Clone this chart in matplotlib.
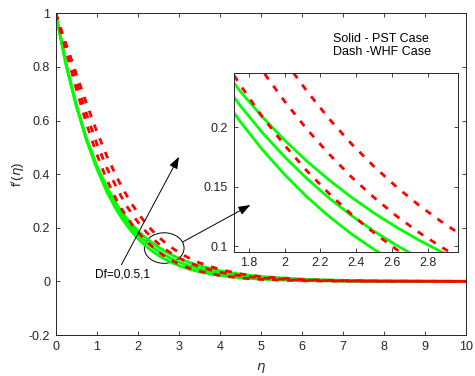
import matplotlib.pyplot as plt
from matplotlib.patches import Ellipse
from matplotlib.ticker import FormatStrFormatter

plt.rcParams["font.family"] = ["Liberation Sans", "DejaVu Sans"]
plt.rcParams["mathtext.fontset"] = "dejavusans"

# similarity variable (denser around the zoomed window)
eta = [0, 0.25, 0.5, 0.75, 1, 1.25, 1.5, 1.625, 1.75, 1.875, 2, 2.125,
       2.25, 2.375, 2.5, 2.625, 2.75, 2.875, 3, 3.125, 3.25, 3.5, 4, 4.5,
       5, 6, 7, 8, 10]

# velocity profiles f'(eta), PST case (solid)
pst_df0 = [1, 0.8106, 0.6570, 0.5260, 0.4210, 0.3321, 0.2618, 0.2319,
           0.2053, 0.1814, 0.1603, 0.1414, 0.1248, 0.1101, 0.0972, 0.0858,
           0.0757, 0.0668, 0.0589, 0.0520, 0.0459, 0.0358, 0.0217, 0.0132,
           0.0080, 0.0029, 0.0011, 0.0004, 0.0001]
pst_df05 = [1, 0.8106, 0.6570, 0.5299, 0.4274, 0.3422, 0.2739, 0.2448,
            0.2187, 0.1957, 0.1752, 0.1568, 0.1403, 0.1256, 0.1125, 0.1007,
            0.0901, 0.0806, 0.0722, 0.0646, 0.0578, 0.0463, 0.0297, 0.0190,
            0.0122, 0.0050, 0.0021, 0.0009, 0.0001]
pst_df1 = [1, 0.8106, 0.6570, 0.5326, 0.4317, 0.3499, 0.2837, 0.2557,
           0.2308, 0.2089, 0.1892, 0.1715, 0.1555, 0.1410, 0.1278, 0.1159,
           0.1051, 0.0953, 0.0864, 0.0783, 0.0710, 0.0584, 0.0395, 0.0268,
           0.0181, 0.0083, 0.0038, 0.0017, 0.0004]

# velocity profiles f'(eta), WHF case (dashed)
whf_df0 = [1, 0.8607, 0.7189, 0.5886, 0.4747, 0.3772, 0.2982, 0.2655,
           0.2363, 0.2091, 0.1850, 0.1633, 0.1441, 0.1265, 0.1111, 0.0972,
           0.0850, 0.0743, 0.0649, 0.0567, 0.0495, 0.0378, 0.0220, 0.0128,
           0.0075, 0.0025, 0.0009, 0.0003, 0.0000]
whf_df05 = [1, 0.8737, 0.7483, 0.6250, 0.5143, 0.4221, 0.3447, 0.3088,
            0.2766, 0.2478, 0.2220, 0.1984, 0.1773, 0.1580, 0.1409, 0.1254,
            0.1116, 0.0993, 0.0882, 0.0784, 0.0696, 0.0548, 0.0337, 0.0208,
            0.0128, 0.0048, 0.0018, 0.0007, 0.0001]
whf_df1 = [1, 0.8869, 0.7749, 0.6637, 0.5599, 0.4665, 0.3848, 0.3485,
           0.3151, 0.2844, 0.2560, 0.2305, 0.2070, 0.1859, 0.1670, 0.1499,
           0.1345, 0.1207, 0.1082, 0.0970, 0.0868, 0.0695, 0.0443, 0.0281,
           0.0178, 0.0070, 0.0028, 0.0011, 0.0002]

pst = [pst_df0, pst_df05, pst_df1]
whf = [whf_df0, whf_df05, whf_df1]

AX_COL = "#262626"
GREEN = (0, 1, 0)
RED = (1, 0, 0)
DASH = (2.4, 2.9)


def draw_curves(a, lw):
    for y in pst:
        a.plot(eta, y, color=GREEN, lw=lw, solid_capstyle="butt")
    for y in whf:
        a.plot(eta, y, color=RED, lw=lw, dashes=DASH)


def style_axes(a, fs):
    a.tick_params(direction="in", top=True, right=True, length=3,
                  width=0.6, labelsize=fs, colors=AX_COL, pad=4)
    for s in a.spines.values():
        s.set_color(AX_COL)
        s.set_linewidth(0.7)


fig = plt.figure(figsize=(4.75, 3.76), dpi=100)
ax = fig.add_axes([0.1173, 0.109, 0.8637, 0.8556])
draw_curves(ax, 2.0)
ax.set_xlim(0, 10)
ax.set_ylim(-0.2, 1)
ax.set_xticks(range(0, 11))
ax.set_yticks([-0.2, 0, 0.2, 0.4, 0.6, 0.8, 1])
ax.yaxis.set_major_formatter(FormatStrFormatter("%g"))
style_axes(ax, 9)
ax.set_xlabel(r"$\eta$", fontsize=9.5, color=AX_COL, labelpad=6)
ax.set_ylabel(r"f$^{\prime}$($\eta$)", fontsize=9.5, color=AX_COL,
              labelpad=1)

ax.text(6.77, 0.904, "Solid - PST Case", fontsize=9, va="center")
ax.text(6.77, 0.854, "Dash -WHF Case", fontsize=9, va="center")

# zoom region marker and Df label
ax.add_patch(Ellipse((2.644, 0.1244), 0.968, 0.114, fill=False,
                     ec="k", lw=0.7))
ax.text(1.636, 0.026, "Df=0,0.5,1", fontsize=8.6, ha="center", va="center")
arrow = dict(arrowstyle="-|>,head_length=0.6,head_width=0.22",
             color="k", lw=0.7, shrinkA=0, shrinkB=0, mutation_scale=12)
ax.annotate("", xy=(3.005, 0.465), xytext=(1.6, 0.062), arrowprops=arrow)

# inset with the zoomed view
axin = fig.add_axes([0.4916, 0.3306, 0.4716, 0.4745])
draw_curves(axin, 2.0)
axin.set_xlim(1.715, 2.9665)
axin.set_ylim(0.0953, 0.2455)
axin.set_xticks([1.8, 2.0, 2.2, 2.4, 2.6, 2.8])
axin.set_yticks([0.1, 0.15, 0.2])
axin.xaxis.set_major_formatter(FormatStrFormatter("%g"))
axin.yaxis.set_major_formatter(FormatStrFormatter("%g"))
style_axes(axin, 9)

axin.annotate("", xy=(1.809, 0.1346), xycoords=axin.transData,
              xytext=(3.095, 0.147), textcoords=ax.transData,
              arrowprops=arrow, annotation_clip=False)

fig.savefig("out.png", dpi=100)
